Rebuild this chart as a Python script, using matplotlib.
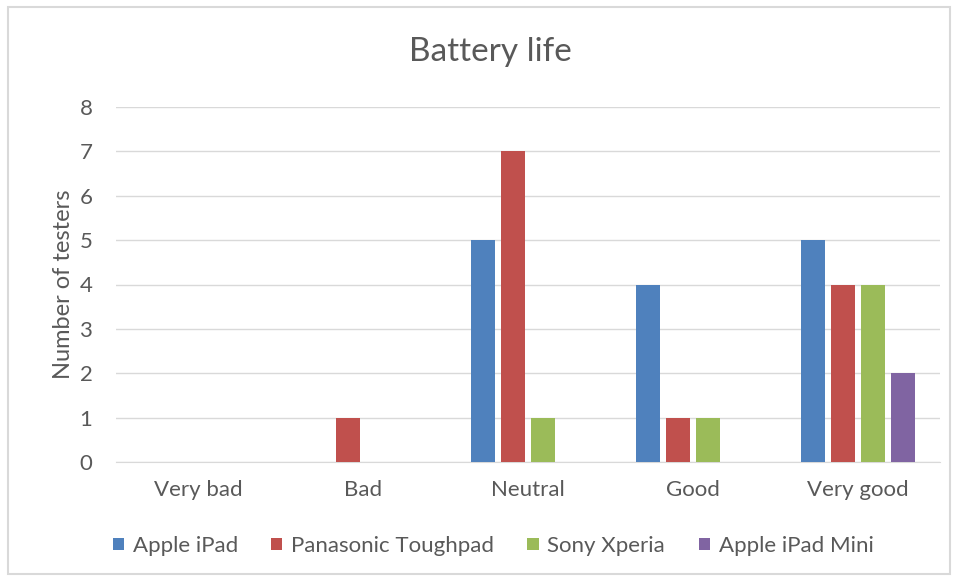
import matplotlib
matplotlib.use("Agg")
import matplotlib.pyplot as plt
import numpy as np
from matplotlib.patches import Rectangle

categories = ["Very bad", "Bad", "Neutral", "Good", "Very good"]
series_names = ["Apple iPad", "Panasonic Toughpad", "Sony Xperia", "Apple iPad Mini"]
apple_ipad = [0, 0, 5, 4, 5]
panasonic = [0, 1, 7, 1, 4]
sony = [0, 0, 1, 1, 4]
ipad_mini = [0, 0, 0, 0, 2]
colors = ["#4F81BD", "#C0504D", "#9BBB59", "#8064A2"]
yticks = [0, 1, 2, 3, 4, 5, 6, 7, 8]

plt.rcParams['font.family'] = ['Lato', 'DejaVu Sans']
text_color = "#595959"

W, H = 958, 581
fig = plt.figure(figsize=(W / 100, H / 100), dpi=100)
ax = fig.add_axes([116 / W, 1 - 462 / H, (940 - 116) / W, (462 - 107) / H])

# figure border
fig.patches.append(Rectangle((8 / W, 1 - 574 / H), (950 - 8) / W, (574 - 7) / H,
                             transform=fig.transFigure, fill=False,
                             edgecolor="#d9d9d9", linewidth=1.5))

x = np.arange(len(categories))
bw = 24 / 165
step = 30 / 165
data = [apple_ipad, panasonic, sony, ipad_mini]
n = len(data)
for i, (vals, c, name) in enumerate(zip(data, colors, series_names)):
    offs = (i - (n - 1) / 2) * step
    ax.bar(x + offs, vals, width=bw, color=c, label=name, zorder=3)

ax.set_xlim(-0.5, len(categories) - 0.5)
ax.set_ylim(0, 8)
ax.set_yticks(yticks)
ax.set_yticklabels([str(t) for t in yticks])
ax.set_xticks(x)
ax.set_xticklabels(categories)
ax.grid(axis='y', color="#d9d9d9", linewidth=1, zorder=0)
ax.set_axisbelow(True)
for s in ["top", "right", "left"]:
    ax.spines[s].set_visible(False)
ax.spines["bottom"].set_color("#d9d9d9")
ax.tick_params(axis='both', length=0, colors=text_color, labelsize=16)
ax.tick_params(axis='y', pad=17)
ax.tick_params(axis='x', pad=13)
ax.set_ylabel("Number of testers", fontsize=17, color=text_color, labelpad=4)

fig.text(490 / W, 1 - 52 / H, "Battery life", ha="center", va="center",
         fontsize=24, color=text_color)

leg = fig.legend(loc="center", bbox_to_anchor=(493 / W, 1 - 546 / H), ncol=4,
                 frameon=False, fontsize=16, handlelength=0.5, handleheight=0.5,
                 handletextpad=0.4, columnspacing=1.5)
for t in leg.get_texts():
    t.set_color(text_color)

fig.savefig("out.png", dpi=100, facecolor="white")
